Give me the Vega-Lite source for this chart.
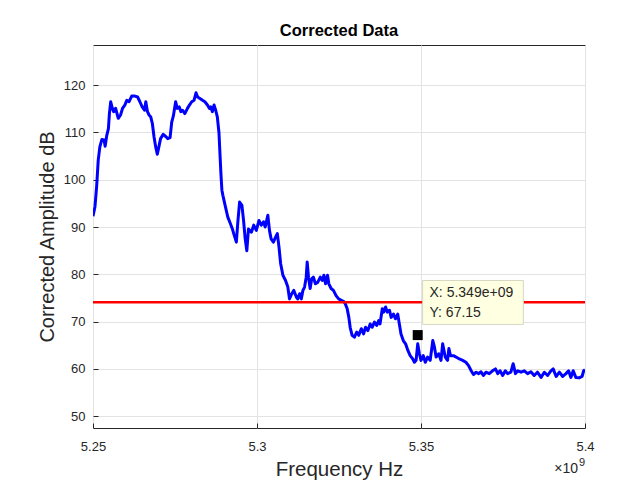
{
  "$schema": "https://vega.github.io/schema/vega-lite/v6.json",
  "width": 492,
  "height": 383,
  "autosize": "none",
  "padding": {"left": 93, "top": 45, "right": 46, "bottom": 55},
  "background": "white",
  "title": {"text": "Corrected Data", "font": "Liberation Sans", "fontSize": 16.5, "fontWeight": "bold", "color": "#000000", "offset": 6},
  "config": {
    "view": {"stroke": "#262626", "strokeWidth": 1},
    "axis": {"labelFont": "Liberation Sans", "titleFont": "Liberation Sans", "labelColor": "#262626", "titleColor": "#262626", "gridColor": "#e3e3e3", "gridWidth": 1, "domain": false, "ticks": true, "tickSize": -5, "tickColor": "#262626", "tickWidth": 1, "titleFontWeight": "normal"}
  },
  "encoding": {
    "x": {"field": "f", "type": "quantitative", "title": "Frequency Hz",
      "scale": {"domain": [5.25, 5.4], "nice": false, "zero": false},
      "axis": {"values": [5.25, 5.3, 5.35, 5.4], "format": "~g", "labelFontSize": 13, "labelPadding": 17, "titleFontSize": 20.5, "titlePadding": 6, "labelFlush": false}},
    "y": {"field": "a", "type": "quantitative", "title": "Corrected Amplitude dB",
      "scale": {"domain": [47.5, 128.5], "nice": false, "zero": false},
      "axis": {"values": [50, 60, 70, 80, 90, 100, 110, 120], "labelFontSize": 13, "labelPadding": 13, "titleFontSize": 20, "titlePadding": 6}}
  },
  "layer": [
    {
      "data": {"values": [
        {"f":5.25,"a":92.3},{"f":5.2506,"a":94.3},{"f":5.2511,"a":98.5},{"f":5.2516,"a":104.2},{"f":5.2521,"a":107},{"f":5.2527,"a":108.5},{"f":5.2534,"a":108.4},{"f":5.2537,"a":107.1},{"f":5.2542,"a":109.4},{"f":5.2547,"a":110.8},{"f":5.2550,"a":114},{"f":5.2554,"a":116.5},{"f":5.2559,"a":115.1},{"f":5.2563,"a":114.4},{"f":5.2569,"a":115.1},{"f":5.2577,"a":113},{"f":5.2584,"a":113.7},{"f":5.2590,"a":115.1},{"f":5.2597,"a":115.8},{"f":5.2603,"a":116.8},{"f":5.2610,"a":116.5},{"f":5.2618,"a":117.7},{"f":5.2628,"a":117.7},{"f":5.2636,"a":117.5},{"f":5.2643,"a":116.5},{"f":5.2650,"a":115.4},{"f":5.2657,"a":114.7},{"f":5.2661,"a":116.5},{"f":5.2666,"a":114.4},{"f":5.2671,"a":113.7},{"f":5.2676,"a":113.3},{"f":5.2681,"a":111.9},{"f":5.2686,"a":109.1},{"f":5.2691,"a":107},{"f":5.2696,"a":105.4},{"f":5.2701,"a":107},{"f":5.2706,"a":108.7},{"f":5.2714,"a":109.6},{"f":5.2721,"a":109.2},{"f":5.2728,"a":108.7},{"f":5.2735,"a":108.9},{"f":5.2740,"a":112.2},{"f":5.2745,"a":113.5},{"f":5.2752,"a":116.5},{"f":5.2757,"a":115.1},{"f":5.2763,"a":115.4},{"f":5.2768,"a":114.4},{"f":5.2773,"a":114.7},{"f":5.2780,"a":114},{"f":5.2788,"a":115.1},{"f":5.2794,"a":115.8},{"f":5.2801,"a":116.5},{"f":5.2808,"a":116.8},{"f":5.2814,"a":118.4},{"f":5.2819,"a":117.5},{"f":5.2826,"a":117.2},{"f":5.2834,"a":116.8},{"f":5.2841,"a":116.5},{"f":5.2849,"a":115.8},{"f":5.2855,"a":115.1},{"f":5.2859,"a":115.4},{"f":5.2864,"a":114.4},{"f":5.2869,"a":115.8},{"f":5.2874,"a":114.7},{"f":5.2879,"a":113.3},{"f":5.2884,"a":110},{"f":5.2887,"a":105.6},{"f":5.2890,"a":101.3},{"f":5.2893,"a":97.8},
        {"f":5.2896,"a":96.7},{"f":5.2904,"a":94.2},{"f":5.2911,"a":92.1},{"f":5.2919,"a":90.7},{"f":5.2925,"a":89.6},{"f":5.2929,"a":88.6},{"f":5.2937,"a":86.8},{"f":5.2942,"a":91.4},{"f":5.2947,"a":95.3},{"f":5.2954,"a":94.6},{"f":5.2959,"a":91.4},{"f":5.2964,"a":87.5},{"f":5.2969,"a":85},{"f":5.2974,"a":89.6},{"f":5.2983,"a":88.9},{"f":5.2990,"a":90.4},{"f":5.2998,"a":89.3},{"f":5.3006,"a":91.4},{"f":5.3013,"a":90.4},{"f":5.3020,"a":91.1},{"f":5.3025,"a":90},{"f":5.3033,"a":92.5},{"f":5.3038,"a":89.3},{"f":5.3043,"a":87.5},{"f":5.3050,"a":86.8},{"f":5.3057,"a":87.9},{"f":5.3062,"a":88.6},{"f":5.3067,"a":85.8},{"f":5.3072,"a":82.3},{"f":5.3079,"a":79.8},{"f":5.3087,"a":78.7},{"f":5.3094,"a":77.3},{"f":5.3099,"a":74.8},{"f":5.3106,"a":75.9},{"f":5.3112,"a":76.6},{"f":5.3120,"a":75.2},{"f":5.3124,"a":74.8},{"f":5.3130,"a":75.9},{"f":5.3135,"a":74.8},{"f":5.3140,"a":76.6},{"f":5.3145,"a":77.3},{"f":5.3150,"a":79.4},{"f":5.3153,"a":82.6},{"f":5.3157,"a":79.4},{"f":5.3162,"a":77},{"f":5.3167,"a":79.1},{"f":5.3172,"a":79.4},{"f":5.3178,"a":78},{"f":5.3185,"a":78.3},{"f":5.3193,"a":79.4},{"f":5.3199,"a":78.7},{"f":5.3204,"a":79.8},{"f":5.3209,"a":78},{"f":5.3215,"a":79.8},{"f":5.3219,"a":78},{"f":5.3226,"a":77},{"f":5.3233,"a":76.6},{"f":5.3241,"a":75.5},{"f":5.3249,"a":74.8},{"f":5.3257,"a":74.5},{"f":5.3264,"a":74.3},{"f":5.3269,"a":73.8},{"f":5.3275,"a":72.7},{"f":5.3280,"a":70.9},{"f":5.3284,"a":68.8},{"f":5.3290,"a":67.1},{"f":5.3297,"a":66.7},{"f":5.3304,"a":67.8},{"f":5.3310,"a":67.1},{"f":5.3318,"a":68.5},{"f":5.3325,"a":67.4},{"f":5.3331,"a":68.8},{"f":5.3338,"a":68.1},{"f":5.3345,"a":69.5},{"f":5.3351,"a":68.8},{"f":5.3358,"a":69.9},{"f":5.3365,"a":69.2},{"f":5.3371,"a":70.2},{"f":5.3375,"a":69.5},{"f":5.3382,"a":72.7},{"f":5.3386,"a":72},{"f":5.3392,"a":73.1},{"f":5.3397,"a":72},{"f":5.3404,"a":72.4},{"f":5.3409,"a":70.9},{"f":5.3416,"a":71.6},{"f":5.3422,"a":70.6},{"f":5.3429,"a":71.6},{"f":5.3434,"a":69.5},{"f":5.3439,"a":67.4},{"f":5.3446,"a":66},{"f":5.3453,"a":65.3},{"f":5.3460,"a":63.9},{"f":5.3467,"a":62.8},{"f":5.3475,"a":62.1},{"f":5.3480,"a":61.4},{"f":5.3485,"a":61.8},{"f":5.3490,"a":65.3},{"f":5.3495,"a":63.2},{"f":5.3500,"a":61.8},{"f":5.3507,"a":62.8},{"f":5.3513,"a":61.4},{"f":5.3520,"a":62.5},{"f":5.3528,"a":61.8},{"f":5.3536,"a":66},{"f":5.3541,"a":64.6},{"f":5.3546,"a":62.5},{"f":5.3554,"a":63.2},{"f":5.3561,"a":61.8},{"f":5.3566,"a":65.3},{"f":5.3574,"a":62.5},{"f":5.3581,"a":61.8},
        {"f":5.3585,"a":64.3},{"f":5.3590,"a":62.8},{"f":5.3599,"a":62.8},{"f":5.3607,"a":62.5},{"f":5.3617,"a":62.1},{"f":5.3627,"a":61.8},{"f":5.3637,"a":61.4},{"f":5.3645,"a":60.7},{"f":5.3653,"a":59.6},{"f":5.3660,"a":58.8},{"f":5.3668,"a":59.3},{"f":5.3676,"a":59},{"f":5.3683,"a":59.4},{"f":5.3690,"a":58.6},{"f":5.3698,"a":59.3},{"f":5.3708,"a":59},{"f":5.3718,"a":59.6},{"f":5.3727,"a":60},{"f":5.3734,"a":59},{"f":5.3741,"a":59.6},{"f":5.3749,"a":58.6},{"f":5.3757,"a":59.6},{"f":5.3764,"a":59},{"f":5.3774,"a":59.3},{"f":5.3781,"a":61.1},{"f":5.3788,"a":59},{"f":5.3795,"a":59.6},{"f":5.3805,"a":59.3},{"f":5.3815,"a":59.6},{"f":5.3825,"a":59},{"f":5.3835,"a":59.4},{"f":5.3845,"a":58.6},{"f":5.3855,"a":59.3},{"f":5.3866,"a":58.2},{"f":5.3876,"a":59.3},{"f":5.3886,"a":58.6},{"f":5.3896,"a":59.6},{"f":5.3903,"a":60},{"f":5.3912,"a":58.4},{"f":5.3922,"a":59.3},{"f":5.3932,"a":58.4},{"f":5.3942,"a":59},{"f":5.3950,"a":59.6},{"f":5.3957,"a":58.2},{"f":5.3964,"a":59.6},{"f":5.3972,"a":58.2},{"f":5.3982,"a":58.1},{"f":5.3991,"a":58.4},{"f":5.3996,"a":59.6},{"f":5.4,"a":59.8}
      ]},
      "mark": {"type": "line", "color": "#0000ff", "strokeWidth": 3, "strokeJoin": "round", "clip": true}
    },
    {
      "data": {"values": [{"f": 5.25, "f2": 5.4, "a": 74.1}]},
      "mark": {"type": "rule", "color": "#ff0000", "strokeWidth": 2.5},
      "encoding": {"x2": {"field": "f2"}}
    },
    {
      "data": {"values": [{"f": 5.3505, "f2": 5.3812, "a": 78.7, "a2": 69.4}]},
      "mark": {"type": "rect", "fill": "#ffffe1", "stroke": "#d6d6c4", "strokeWidth": 1},
      "encoding": {"x2": {"field": "f2"}, "y2": {"field": "a2"}}
    },
    {
      "data": {"values": [{"f": 5.3526, "a": 75.95, "label": "X: 5.349e+09"}, {"f": 5.3526, "a": 71.9, "label": "Y: 67.15"}]},
      "mark": {"type": "text", "align": "left", "baseline": "middle", "font": "Liberation Sans", "fontSize": 14, "color": "#262626"},
      "encoding": {"text": {"field": "label"}}
    },
    {
      "data": {"values": [{"f": 5.349, "a": 67.15}]},
      "mark": {"type": "point", "shape": "square", "filled": true, "color": "#000000", "size": 100, "opacity": 1}
    },
    {
      "data": {"values": [{"f": 5.4, "a": 38.9, "label": "×10"}]},
      "mark": {"type": "text", "align": "right", "baseline": "middle", "font": "Liberation Sans", "fontSize": 14, "color": "#262626", "dx": -7},
      "encoding": {"text": {"field": "label"}}
    },
    {
      "data": {"values": [{"f": 5.4, "a": 38.9, "label": "9"}]},
      "mark": {"type": "text", "align": "right", "baseline": "middle", "font": "Liberation Sans", "fontSize": 11, "color": "#262626", "dy": -6},
      "encoding": {"text": {"field": "label"}}
    }
  ]
}
